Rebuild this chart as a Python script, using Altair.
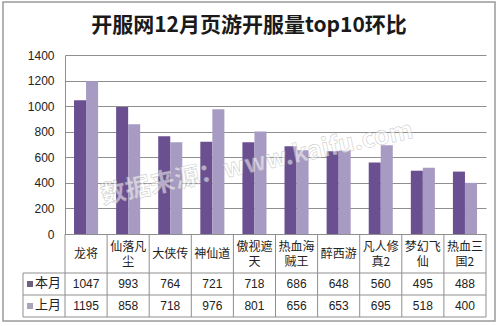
import altair as alt
import pandas as pd

categories = ["龙将", "仙落凡尘", "大侠传", "神仙道", "傲视遮天", "热血海贼王", "醉西游", "凡人修真2", "梦幻飞仙", "热血三国2"]
cat_labels = ["龙将", "仙落凡\n尘", "大侠传", "神仙道", "傲视遮\n天", "热血海\n贼王", "醉西游", "凡人修\n真2", "梦幻飞\n仙", "热血三\n国2"]
this_month = [1047, 993, 764, 721, 718, 686, 648, 560, 495, 488]
last_month = [1195, 858, 718, 976, 801, 656, 653, 695, 518, 400]
series = ["本月", "上月"]
colors = ["#6a5090", "#a79ac3"]
legend_sq = ["#6c6080", "#aaa3bb"]
y_ticks = [0, 200, 400, 600, 800, 1000, 1200, 1400]
title_text = "开服网12月页游开服量top10环比"
watermark = "数据来源：www.kaifu.com"

W, H = 421, 179
CJK = "Noto Sans CJK SC"
NUM = "Liberation Sans"
GRID = "#8f8f8f"

rows = []
for c, a, b in zip(categories, this_month, last_month):
    rows.append({"cat": c, "series": series[0], "value": a})
    rows.append({"cat": c, "series": series[1], "value": b})
bars_df = pd.DataFrame(rows)
cat_df = pd.DataFrame({"cat": categories,
                       "tm": [str(v) for v in this_month], "lm": [str(v) for v in last_month]})
single_df = pd.DataFrame([{"cat": c, "t": l} for c, l in zip(categories, cat_labels) if "\n" not in l])
double_df = pd.DataFrame([{"cat": c, "t1": l.split("\n")[0], "t2": l.split("\n")[1]}
                          for c, l in zip(categories, cat_labels) if "\n" in l])
one = pd.DataFrame({"k": [0]})

xs = alt.Scale(paddingInner=0, paddingOuter=0)
X = lambda: alt.X("cat:N", sort=categories, scale=xs, axis=None)

bars = alt.Chart(bars_df).mark_bar().encode(
    x=X(),
    xOffset=alt.XOffset("series:N", sort=series, scale=alt.Scale(paddingInner=0, paddingOuter=0.75)),
    y=alt.Y("value:Q", scale=alt.Scale(domain=[0, 1400], nice=False),
            axis=alt.Axis(values=y_ticks, format="d", title=None, ticks=False, labelPadding=11,
                          labelFont=NUM, labelFontSize=12, labelColor="#222",
                          grid=True, gridColor=GRID, gridWidth=1,
                          domain=True, domainColor=GRID)),
    color=alt.Color("series:N", scale=alt.Scale(domain=series, range=colors), legend=None),
)

vlines = alt.Chart(cat_df).mark_rule(color=GRID, strokeWidth=1).encode(
    x=alt.X("cat:N", sort=categories, scale=xs, axis=None, bandPosition=0),
    y=alt.value(H), y2=alt.value(H + 83),
)
vright = alt.Chart(one).mark_rule(color=GRID).encode(
    x=alt.value(W), y=alt.value(H), y2=alt.value(H + 83))
vleft = alt.Chart(one).mark_rule(color=GRID).encode(
    x=alt.value(-42), y=alt.value(H + 39), y2=alt.value(H + 83))
hlines = [
    alt.Chart(one).mark_rule(color=GRID).encode(
        x=alt.value(-42), x2=alt.value(W), y=alt.value(H + dy))
    for dy in (39, 61, 83)
]

txt = dict(font=CJK, fontSize=12, color="#222", baseline="middle")
single_text = alt.Chart(single_df).mark_text(**txt).encode(x=X(), y=alt.value(H + 19.5), text="t:N")
d1_text = alt.Chart(double_df).mark_text(**txt).encode(x=X(), y=alt.value(H + 12.5), text="t1:N")
d2_text = alt.Chart(double_df).mark_text(**txt).encode(x=X(), y=alt.value(H + 28), text="t2:N")

num = dict(font=NUM, fontSize=12, color="#222", baseline="middle")
tm_text = alt.Chart(cat_df).mark_text(**num).encode(x=X(), y=alt.value(H + 50), text="tm:N")
lm_text = alt.Chart(cat_df).mark_text(**num).encode(x=X(), y=alt.value(H + 72), text="lm:N")

leg_layers = []
for s, col, dy in zip(series, legend_sq, (50, 72)):
    d = pd.DataFrame({"series": [s]})
    leg_layers.append(alt.Chart(d).mark_square(size=36, opacity=1, color=col).encode(
        x=alt.value(-35), y=alt.value(H + dy)))
    leg_layers.append(alt.Chart(d).mark_text(font=CJK, fontSize=13, color="#222", align="left",
                                             baseline="middle").encode(
        x=alt.value(-30), y=alt.value(H + dy - 1), text="series:N"))

wm = alt.Chart(pd.DataFrame({"t": [watermark]})).mark_text(
    font=CJK, fontSize=25, fontWeight="bold", angle=348, fill="#ffffff", fillOpacity=0.55,
    stroke="#9a9a9a", strokeWidth=0.6, strokeOpacity=0.5, align="center", baseline="middle").encode(
    x=alt.value(192), y=alt.value(108), text="t:N")

border = alt.Chart(one).mark_rect(fill=None, stroke="#9a9a9a", strokeWidth=1.5).encode(
    x=alt.value(-62), x2=alt.value(430), y=alt.value(-53), y2=alt.value(266))

title = alt.Chart(pd.DataFrame({"t": [title_text]})).mark_text(
    font=CJK, fontSize=21, fontWeight="bold", color="#1a1a1a", align="center", baseline="middle").encode(
    x=alt.value(184), y=alt.value(-29), text="t:N")

chart = alt.layer(
    bars, wm, vlines, vright, vleft, *hlines, single_text, d1_text, d2_text, tm_text, lm_text,
    *leg_layers, border, title
).resolve_scale(color="independent").properties(
    width=W, height=H,
    padding={"left": 65, "top": 55, "right": 14, "bottom": 92},
    autosize=alt.AutoSizeParams(type="none"),
    background="white",
).configure_view(stroke=None)

chart.save("out.html", embed_options={"renderer": "svg", "actions": False})
